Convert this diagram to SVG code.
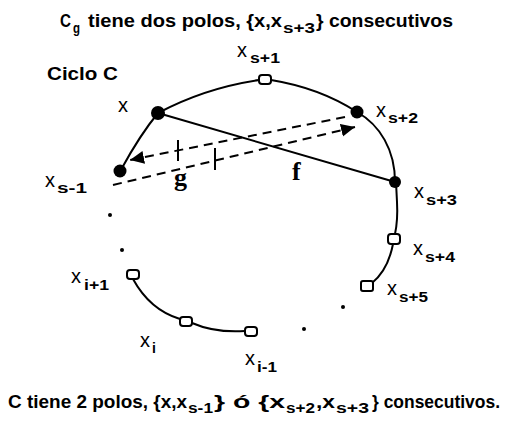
<svg xmlns="http://www.w3.org/2000/svg" width="517" height="421" viewBox="0 0 517 421">
<style>
.t{font-family:"Liberation Sans",Arial,sans-serif;font-weight:bold;font-size:18px;fill:#000}
.sb{font-family:"Liberation Sans",Arial,sans-serif;font-weight:bold;font-size:14px;fill:#000}
.lx{font-family:"Liberation Sans",Arial,sans-serif;font-size:20px;fill:#000}
.ls{font-family:"Liberation Sans",Arial,sans-serif;font-weight:bold;font-size:14px;fill:#000}
.fg{font-family:"Liberation Serif","Times New Roman",serif;font-weight:bold;font-size:26px;fill:#000}
.edge{fill:none;stroke:#000;stroke-width:2;stroke-linecap:round}
.dash{fill:none;stroke:#000;stroke-width:2;stroke-dasharray:9 6}
.tick{stroke:#000;stroke-width:2}
.full{fill:#000}
.hol{fill:#fff;stroke:#000;stroke-width:2}
.dot{fill:#000}
</style>
<defs>
<marker id="ah" markerUnits="userSpaceOnUse" markerWidth="16" markerHeight="14" refX="14" refY="6.5" orient="auto">
<path d="M0,0 L14,6.5 L0,13 Z" fill="#000"/>
</marker>
</defs>

<g id="title">
<text class="t" x="60" y="27" textLength="11" lengthAdjust="spacingAndGlyphs">C</text>
<text class="sb" x="73" y="33" textLength="7" lengthAdjust="spacingAndGlyphs">g</text>
<text class="t" x="88" y="27" textLength="194" lengthAdjust="spacingAndGlyphs">tiene dos polos, {x,x</text>
<text class="sb" x="283" y="33" textLength="32" lengthAdjust="spacingAndGlyphs">s+3</text>
<text class="t" x="316" y="27" textLength="137" lengthAdjust="spacingAndGlyphs">} consecutivos</text>
</g>
<g id="ciclo">
<text class="t" x="47" y="80" textLength="71" lengthAdjust="spacingAndGlyphs">Ciclo C</text>
</g>

<g id="connectors">
<path class="edge" d="M158,113 Q205,88 259,80"/>
<path class="edge" d="M271,80 Q320,88 357,112"/>
<path class="edge" d="M357,112 C380,125 395,150 395,182"/>
<path class="edge" d="M396,182 L397,202 Q398,220 395,234"/>
<path class="edge" d="M393,244 Q388,270 372,283"/>
<path class="edge" d="M158,113 Q140,135 122,168"/>
<path class="edge" d="M133,279 Q150,310 180,319"/>
<path class="edge" d="M192,323 Q215,333 245,331"/>
<path id="f" class="edge" d="M158,113 L395,182"/>
<path id="gA" class="dash" d="M345,117 L130,160" marker-end="url(#ah)"/>
<path id="gB" class="dash" d="M113,185 L355,127" marker-end="url(#ah)"/>
<line class="tick" x1="178" y1="140" x2="178" y2="161"/>
<line class="tick" x1="215" y1="148" x2="215" y2="170"/>
</g>

<g id="label-f"><text class="fg" x="292" y="180">f</text></g>
<g id="label-g"><text class="fg" x="174" y="186">g</text></g>

<g id="n-x"><circle class="full" cx="158" cy="113" r="7"/><text class="lx" x="118" y="112">x</text></g>
<g id="n-s1"><rect class="hol" x="259" y="75" width="12" height="9" rx="3"/><text class="lx" x="237" y="57">x</text><text class="ls" x="250" y="63" textLength="30" lengthAdjust="spacingAndGlyphs">s+1</text></g>
<g id="n-s2"><circle class="full" cx="357" cy="112" r="6.5"/><text class="lx" x="376" y="117">x</text><text class="ls" x="388" y="123" textLength="30" lengthAdjust="spacingAndGlyphs">s+2</text></g>
<g id="n-s3"><circle class="full" cx="395" cy="182" r="6"/><text class="lx" x="414" y="198">x</text><text class="ls" x="426" y="205" textLength="31" lengthAdjust="spacingAndGlyphs">s+3</text></g>
<g id="n-s4"><rect class="hol" x="388" y="234" width="12" height="10" rx="3"/><text class="lx" x="413" y="255">x</text><text class="ls" x="425" y="262" textLength="30" lengthAdjust="spacingAndGlyphs">s+4</text></g>
<g id="n-s5"><rect class="hol" x="361" y="281" width="12" height="10" rx="2"/><text class="lx" x="387" y="295">x</text><text class="ls" x="399" y="302" textLength="29" lengthAdjust="spacingAndGlyphs">s+5</text></g>
<g id="n-sm1"><circle class="full" cx="120" cy="171" r="6.5"/><text class="lx" x="45" y="187">x</text><text class="ls" x="57" y="193" textLength="30" lengthAdjust="spacingAndGlyphs">s-1</text></g>
<g id="n-i1"><rect class="hol" x="127" y="270" width="12" height="9" rx="3"/><text class="lx" x="71" y="283">x</text><text class="ls" x="84" y="290" textLength="25" lengthAdjust="spacingAndGlyphs">i+1</text></g>
<g id="n-i"><rect class="hol" x="180" y="317" width="12" height="9" rx="3"/><text class="lx" x="140" y="347">x</text><text class="ls" x="152" y="353">i</text></g>
<g id="n-im1"><rect class="hol" x="245" y="327" width="12" height="9" rx="3"/><text class="lx" x="245" y="365">x</text><text class="ls" x="257" y="372" textLength="20" lengthAdjust="spacingAndGlyphs">i-1</text></g>

<g id="dots">
<circle class="dot" cx="110" cy="215" r="2"/>
<circle class="dot" cx="122" cy="250" r="2"/>
<circle class="dot" cx="343" cy="307" r="2"/>
<circle class="dot" cx="304" cy="329" r="2"/>
</g>

<g id="caption">
<text class="t" x="8" y="408" textLength="179" lengthAdjust="spacingAndGlyphs">C tiene 2 polos, {x,x</text>
<text class="sb" x="188" y="413" textLength="25" lengthAdjust="spacingAndGlyphs">s-1</text>
<text class="t" x="214" y="408" textLength="71" lengthAdjust="spacingAndGlyphs">}  ó  {x</text>
<text class="sb" x="286" y="413" textLength="29" lengthAdjust="spacingAndGlyphs">s+2</text>
<text class="t" x="316" y="408" textLength="19" lengthAdjust="spacingAndGlyphs">,x</text>
<text class="sb" x="336" y="413" textLength="33" lengthAdjust="spacingAndGlyphs">s+3</text>
<text class="t" x="372" y="408" textLength="128" lengthAdjust="spacingAndGlyphs">} consecutivos.</text>
</g>
</svg>
